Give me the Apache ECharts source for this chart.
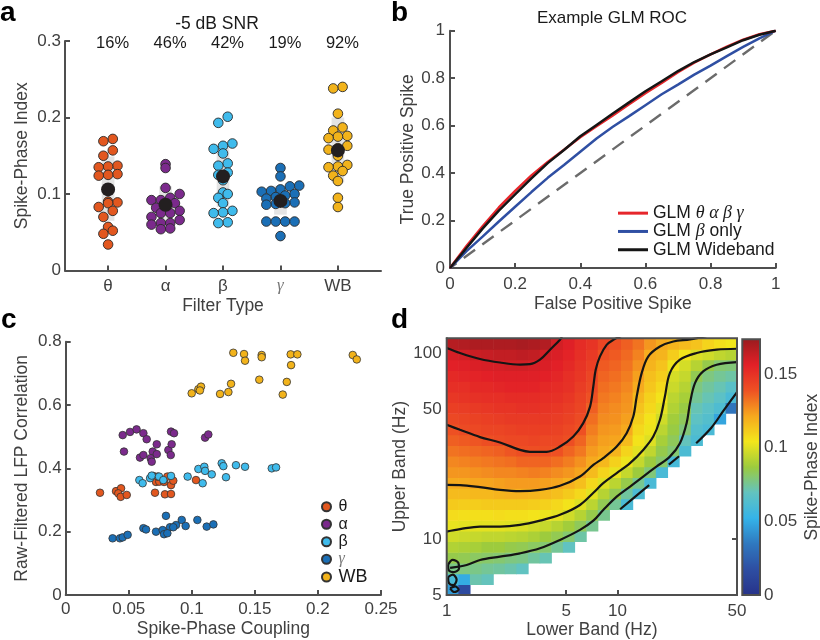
<!DOCTYPE html>
<html><head><meta charset="utf-8">
<script src="https://cdn.jsdelivr.net/npm/echarts@6/dist/echarts.min.js"></script>
<style>html,body{margin:0;padding:0;background:#fff}#main{width:820px;height:640px}</style>
</head><body><div id="main"></div>
<script>
// ================= DATA =================
// ---- Panel a: Spike-Phase Index per filter type (-5 dB SNR) ----
const filterCategories = ['θ','α','β','γ','WB'];
const thetaSPI = [0.172,0.169,0.157,0.150,0.137,0.136,0.135,0.126,0.125,0.124,0.090,0.089,0.088,0.083,0.078,0.070,0.057,0.052,0.048,0.034];
const alphaSPI = [0.139,0.134,0.108,0.100,0.095,0.092,0.092,0.088,0.085,0.082,0.078,0.075,0.075,0.070,0.066,0.062,0.062,0.060,0.055,0.054];
const betaSPI  = [0.201,0.193,0.166,0.163,0.159,0.153,0.140,0.137,0.128,0.125,0.118,0.102,0.100,0.095,0.088,0.078,0.076,0.075,0.063,0.062];
const gammaSPI = [0.134,0.123,0.111,0.110,0.106,0.104,0.103,0.100,0.098,0.096,0.094,0.089,0.088,0.087,0.086,0.064,0.064,0.064,0.064,0.045];
const wbSPI    = [0.240,0.238,0.205,0.187,0.183,0.176,0.175,0.173,0.163,0.160,0.158,0.150,0.138,0.136,0.135,0.130,0.124,0.117,0.095,0.083];
const meanSPI  = [0.106,0.086,0.123,0.091,0.157];
const bandLow  = [0.065,0.062,0.083,0.073,0.115];
const bandHigh = [0.149,0.110,0.163,0.111,0.200];
const percentSignificant = [16,46,42,19,92];

// ---- Panel b: ROC curves ----
const rocFpr      = [0,0.05,0.1,0.15,0.2,0.25,0.3,0.35,0.4,0.45,0.5,0.55,0.6,0.65,0.7,0.75,0.8,0.85,0.9,0.95,1];
const tprAllBands = [0,0.092,0.176,0.255,0.325,0.390,0.447,0.498,0.551,0.598,0.643,0.690,0.737,0.780,0.825,0.865,0.900,0.933,0.962,0.985,1];
const tprBetaOnly = [0,0.070,0.132,0.196,0.258,0.320,0.380,0.434,0.490,0.546,0.595,0.640,0.686,0.732,0.773,0.815,0.853,0.893,0.932,0.968,1];
const tprWideband = [0,0.083,0.166,0.242,0.310,0.378,0.442,0.497,0.555,0.603,0.651,0.698,0.745,0.787,0.830,0.868,0.900,0.930,0.960,0.983,1];
const chanceFpr = [0,1];
const chanceTpr = [0,1];

// ---- Panel c: coupling vs correlation ----
const cThetaX = [0.0272,0.0399,0.0439,0.0417,0.0436,0.0484,0.0695,0.0716,0.0708,0.0742,0.0780,0.0806,0.0835,0.0853,0.0787,0.0835,0.0730,0.1033];
const cThetaY = [0.323,0.328,0.337,0.321,0.310,0.316,0.376,0.357,0.323,0.358,0.357,0.374,0.347,0.361,0.318,0.319,0.374,0.363];
const cAlphaX = [0.0452,0.0510,0.0562,0.0616,0.0642,0.0462,0.0589,0.0616,0.0690,0.0722,0.0674,0.0682,0.0722,0.0814,0.0840,0.0833,0.0835,0.0859,0.1105,0.1131];
const cAlphaY = [0.505,0.515,0.523,0.511,0.492,0.453,0.434,0.442,0.453,0.476,0.432,0.421,0.445,0.458,0.476,0.442,0.516,0.511,0.497,0.507];
const cBetaX  = [0.0584,0.0610,0.0669,0.0682,0.0740,0.0774,0.0835,0.0967,0.1052,0.1099,0.1105,0.1086,0.1158,0.1237,0.1250,0.1271,0.1350,0.1422,0.1634,0.1668];
const cBetaY  = [0.363,0.353,0.369,0.377,0.374,0.363,0.376,0.374,0.398,0.405,0.392,0.353,0.381,0.416,0.407,0.372,0.410,0.405,0.400,0.403];
const cGammaX = [0.0372,0.0430,0.0452,0.0491,0.0616,0.0637,0.0716,0.0769,0.0780,0.0795,0.0827,0.0875,0.0920,0.0951,0.1044,0.1118,0.1171,0.0806,0.0853];
const cGammaY = [0.179,0.179,0.182,0.190,0.211,0.207,0.200,0.205,0.192,0.250,0.214,0.221,0.237,0.218,0.237,0.216,0.223,0.195,0.214];
const cWbX    = [0.1329,0.1414,0.1422,0.1554,0.1554,0.1784,0.1837,0.1787,0.2276,0.2308,0.0999,0.1052,0.1073,0.1064,0.1224,0.1290,0.1311,0.1535,0.1753,0.1721];
const cWbY    = [0.765,0.761,0.740,0.758,0.751,0.760,0.760,0.726,0.758,0.744,0.637,0.650,0.658,0.646,0.635,0.641,0.667,0.680,0.673,0.633];

// ---- Panel d: Spike-Phase Index map (rows: upper band, bottom->top; cols: lower band, left->right) ----
// axes are log10(Hz); bins: lower band log10 0..1.7 step 0.068, upper band log10 0.699..2.079 step 0.0575
const lowerLogStart = 0, lowerLogStep = 0.068;
const upperLogStart = 0.699, upperLogStep = 0.0575;
const _ = null;
const spiMap = [
 [0.045,0.015,_,_,_,_,_,_,_,_,_,_,_,_,_,_,_,_,_,_,_,_,_,_,_],
 [0.060,0.050,0.072,0.070,_,_,_,_,_,_,_,_,_,_,_,_,_,_,_,_,_,_,_,_,_],
 [0.077,0.078,0.077,0.075,0.074,0.072,0.069,_,_,_,_,_,_,_,_,_,_,_,_,_,_,_,_,_,_],
 [0.085,0.084,0.082,0.081,0.080,0.078,0.077,0.074,0.071,_,_,_,_,_,_,_,_,_,_,_,_,_,_,_,_],
 [0.091,0.090,0.089,0.087,0.087,0.085,0.084,0.082,0.080,0.075,0.069,_,_,_,_,_,_,_,_,_,_,_,_,_,_],
 [0.097,0.096,0.095,0.094,0.094,0.093,0.092,0.090,0.087,0.084,0.080,0.073,_,_,_,_,_,_,_,_,_,_,_,_,_],
 [0.102,0.101,0.101,0.101,0.101,0.100,0.099,0.097,0.095,0.092,0.088,0.083,0.076,_,_,_,_,_,_,_,_,_,_,_,_],
 [0.107,0.106,0.106,0.106,0.107,0.106,0.106,0.105,0.103,0.101,0.097,0.092,0.085,0.076,_,_,_,_,_,_,_,_,_,_,_],
 [0.112,0.111,0.111,0.112,0.112,0.112,0.112,0.111,0.110,0.108,0.105,0.100,0.093,0.084,0.075,0.060,_,_,_,_,_,_,_,_,_],
 [0.116,0.116,0.117,0.117,0.118,0.119,0.119,0.118,0.117,0.115,0.112,0.108,0.101,0.092,0.084,0.074,0.061,_,_,_,_,_,_,_,_],
 [0.121,0.121,0.122,0.122,0.123,0.124,0.124,0.124,0.123,0.122,0.119,0.115,0.108,0.100,0.093,0.085,0.076,0.060,_,_,_,_,_,_,_],
 [0.125,0.125,0.126,0.127,0.128,0.128,0.129,0.130,0.129,0.127,0.125,0.122,0.116,0.109,0.102,0.095,0.087,0.079,0.060,_,_,_,_,_,_],
 [0.128,0.129,0.130,0.131,0.132,0.133,0.135,0.135,0.135,0.133,0.130,0.126,0.121,0.117,0.110,0.103,0.095,0.087,0.081,0.059,_,_,_,_,_],
 [0.132,0.133,0.134,0.135,0.136,0.138,0.140,0.140,0.140,0.139,0.135,0.131,0.124,0.121,0.118,0.109,0.101,0.094,0.085,0.080,0.061,_,_,_,_],
 [0.136,0.137,0.138,0.140,0.141,0.142,0.142,0.143,0.142,0.142,0.140,0.135,0.127,0.123,0.122,0.116,0.105,0.100,0.089,0.083,0.070,0.061,_,_,_],
 [0.139,0.141,0.142,0.143,0.143,0.144,0.145,0.145,0.145,0.144,0.142,0.139,0.130,0.125,0.124,0.121,0.108,0.103,0.093,0.086,0.079,0.064,0.060,_,_],
 [0.142,0.143,0.144,0.145,0.146,0.147,0.147,0.147,0.147,0.146,0.144,0.141,0.133,0.127,0.126,0.123,0.111,0.105,0.097,0.088,0.083,0.068,0.064,0.048,_],
 [0.145,0.146,0.147,0.148,0.149,0.149,0.150,0.150,0.149,0.148,0.146,0.143,0.136,0.129,0.127,0.125,0.114,0.108,0.101,0.091,0.086,0.071,0.067,0.062,0.033],
 [0.148,0.149,0.150,0.151,0.151,0.152,0.152,0.152,0.151,0.150,0.148,0.144,0.139,0.131,0.129,0.126,0.117,0.110,0.105,0.093,0.089,0.075,0.071,0.067,0.060],
 [0.151,0.151,0.153,0.153,0.154,0.155,0.155,0.155,0.153,0.152,0.150,0.146,0.142,0.133,0.131,0.128,0.121,0.113,0.108,0.096,0.092,0.078,0.074,0.071,0.066],
 [0.153,0.154,0.155,0.156,0.157,0.157,0.157,0.157,0.156,0.154,0.151,0.148,0.143,0.135,0.133,0.130,0.123,0.115,0.111,0.098,0.095,0.084,0.078,0.075,0.073],
 [0.156,0.157,0.158,0.159,0.159,0.160,0.160,0.159,0.158,0.156,0.153,0.149,0.145,0.137,0.135,0.132,0.126,0.118,0.114,0.103,0.098,0.092,0.085,0.080,0.079],
 [0.159,0.160,0.162,0.163,0.164,0.164,0.165,0.164,0.160,0.158,0.155,0.151,0.147,0.139,0.137,0.134,0.129,0.120,0.118,0.111,0.104,0.099,0.097,0.094,0.092],
 [0.167,0.168,0.169,0.169,0.169,0.169,0.170,0.169,0.168,0.160,0.157,0.152,0.149,0.143,0.139,0.136,0.132,0.125,0.121,0.118,0.116,0.114,0.109,0.106,0.104]
];
// contour lines [log10 lower band, log10 upper band]
const contour016 = [[0,2.027],[0.078,2.0],[0.195,1.968],[0.312,1.949],[0.429,1.938],[0.487,1.94],[0.546,1.964],[0.605,2.018],[0.663,2.071],[0.675,2.09]];
const contour014 = [[0,1.614],[0.078,1.587],[0.195,1.548],[0.312,1.519],[0.429,1.479],[0.487,1.469],[0.585,1.469],[0.663,1.497],[0.741,1.551],[0.799,1.623],[0.839,1.712],[0.858,1.82],[0.872,1.91],[0.897,1.982],[0.936,2.044],[0.975,2.071],[1.02,2.09]];
const contour012 = [[0,1.291],[0.078,1.29],[0.195,1.279],[0.312,1.264],[0.429,1.257],[0.546,1.264],[0.663,1.286],[0.78,1.336],[0.86,1.40],[0.916,1.435],[0.995,1.497],[1.053,1.569],[1.092,1.659],[1.112,1.766],[1.141,1.892],[1.18,1.982],[1.248,2.035],[1.326,2.062],[1.424,2.073],[1.52,2.09]];
const contour010 = [[0,1.04],[0.078,1.053],[0.195,1.067],[0.312,1.067],[0.429,1.076],[0.546,1.099],[0.663,1.13],[0.78,1.183],[0.86,1.25],[0.916,1.3],[0.995,1.354],[1.073,1.408],[1.15,1.479],[1.209,1.551],[1.248,1.641],[1.277,1.766],[1.306,1.892],[1.365,1.964],[1.463,2.0],[1.58,2.018],[1.699,2.023]];
const contour008 = [[0.02,0.845],[0.117,0.86],[0.195,0.887],[0.312,0.905],[0.429,0.923],[0.546,0.95],[0.663,0.995],[0.78,1.049],[0.86,1.10],[0.916,1.156],[0.995,1.228],[1.073,1.282],[1.15,1.336],[1.229,1.39],[1.306,1.443],[1.365,1.515],[1.404,1.623],[1.424,1.731],[1.453,1.838],[1.501,1.901],[1.58,1.937],[1.699,1.951]];
const contour006a = [[1.015,1.16],[1.10,1.225],[1.185,1.29]];
const contour006b = [[1.30,1.40],[1.36,1.445]];
const contour006c = [[1.46,1.515],[1.55,1.60],[1.62,1.69],[1.699,1.79]];
const contourNoise1 = [[0.008,0.862],[0.035,0.888],[0.068,0.872],[0.072,0.842],[0.042,0.822],[0.012,0.832],[0.008,0.862]];
const contourNoise2 = [[0.008,0.795],[0.035,0.808],[0.058,0.782],[0.040,0.752],[0.014,0.762],[0.008,0.795]];
const contourNoise3 = [[0.02,0.735],[0.05,0.745],[0.07,0.728],[0.045,0.715],[0.02,0.735]];
const colorbarTicks = [0,0.05,0.1,0.15];

// ================= STYLE / LAYOUT =================
const FONT = "'Liberation Sans', Arial, Helvetica, sans-serif";
const SERIF = "'Liberation Serif', 'Times New Roman', serif";
const TXT = '#404040';
const DARK = '#1a1a1a';
const AX = '#4f4f4f';
const groupColors = ['#e2571f','#7b2a8c','#3fbbec','#1b6fb6','#f2b31b'];

function merge(a, b) {
  const o = Array.isArray(a) ? a.slice() : Object.assign({}, a);
  for (const k in b) {
    if (b[k] && typeof b[k] === 'object' && !Array.isArray(b[k]) && a && a[k] && typeof a[k] === 'object' && !Array.isArray(a[k])) o[k] = merge(a[k], b[k]);
    else o[k] = b[k];
  }
  return o;
}
const axisBase = {
  nameLocation: 'middle',
  axisLine: {show: true, onZero: false, lineStyle: {color: AX, width: 2}},
  axisTick: {show: true, inside: true, length: 5, lineStyle: {color: AX, width: 2}},
  axisLabel: {color: TXT, fontSize: 17, fontFamily: FONT},
  splitLine: {show: false},
  nameTextStyle: {color: TXT, fontSize: 17.5, fontFamily: FONT}
};

// grid 0 (a) geometry used for swarm spacing
const gridA = {left: 65, top: 41, width: 316, height: 229.5};
const aXmin = 0.25, aXmax = 5.75, aYmax = 0.3;
const pxPerXa = gridA.width / (aXmax - aXmin);
const pxPerYa = gridA.height / aYmax;
const swarmRowPx = 8.6, swarmStepPx = 9.4;
// bin-based swarm: points of similar value share a row, spread symmetrically
function swarmOffsets(vals) {
  const bins = {};
  vals.forEach((v, i) => { const b = Math.floor(v * pxPerYa / swarmRowPx); (bins[b] = bins[b] || []).push(i); });
  const offs = new Array(vals.length).fill(0);
  Object.keys(bins).forEach(b => {
    const idx = bins[b].sort((p, q) => vals[p] - vals[q]);
    const n = idx.length;
    // alternate placement so that neighbouring values fan out from the centre
    const slots = [];
    for (let k = 0; k < n; k++) slots.push(k - (n - 1) / 2);
    idx.forEach((i, k) => { offs[i] = slots[k] * swarmStepPx / pxPerXa; });
  });
  return offs;
}

const grids = [
  gridA,
  {left: 450, top: 30.7, width: 325.7, height: 237.3},
  {left: 65.7, top: 341.7, width: 315.3, height: 253.3},
  {left: 446.7, top: 338.3, width: 290.3, height: 256.7, show: true, borderColor: AX, borderWidth: 2, backgroundColor: 'rgba(0,0,0,0)', z: 10},
  {left: 742.3, top: 339.3, width: 17.7, height: 255.7, show: true, borderColor: AX, borderWidth: 2, backgroundColor: 'rgba(0,0,0,0)', z: 10}
].map(g => Object.assign({containLabel: false, outerBoundsMode: 'none'}, g));

const log10 = Math.log10;
const dXTicks = [0, log10(5), 1, log10(50)];
const dYTicks = [log10(5), 1, log10(50), 2];
const hzFmt = v => String(Math.round(Math.pow(10, v)));

const xAxes = [
  merge(axisBase, {gridIndex: 0, type: 'value', min: aXmin, max: aXmax, name: 'Filter Type', nameGap: 27,
    axisTick: {customValues: [1,2,3,4,5]},
    axisLabel: {customValues: [1,2,3,4,5], margin: 7,
      formatter: v => { const c = filterCategories[Math.round(v) - 1]; return c === 'γ' ? '{g|γ}' : c; },
      rich: {g: {fontFamily: SERIF, fontStyle: 'italic', fontSize: 17, color: '#777'}}}}),
  merge(axisBase, {gridIndex: 1, type: 'value', min: 0, max: 1, interval: 0.2, name: 'False Positive Spike', nameGap: 27,
    axisLabel: {margin: 8}}),
  merge(axisBase, {gridIndex: 2, type: 'value', min: 0, max: 0.25, interval: 0.05, name: 'Spike-Phase Coupling', nameGap: 25,
    axisLabel: {margin: 6}}),
  merge(axisBase, {gridIndex: 3, type: 'value', min: 0, max: log10(50), name: 'Lower Band (Hz)', nameGap: 26,
    axisTick: {customValues: dXTicks}, axisLabel: {customValues: dXTicks, formatter: hzFmt, margin: 8}}),
  {gridIndex: 4, type: 'value', min: 0, max: 1, show: false},
  merge(axisBase, {gridIndex: 3, type: 'value', position: 'top', min: 0, max: log10(50),
    axisLine: {show: false}, axisTick: {customValues: dXTicks}, axisLabel: {show: false}})
];
const yAxes = [
  merge(axisBase, {gridIndex: 0, type: 'value', min: 0, max: aYmax, interval: 0.1, name: 'Spike-Phase Index', nameGap: 34,
    axisLabel: {margin: 4}}),
  merge(axisBase, {gridIndex: 1, type: 'value', min: 0, max: 1, interval: 0.2, name: 'True Positive Spike', nameGap: 31,
    axisLabel: {margin: 5}}),
  merge(axisBase, {gridIndex: 2, type: 'value', min: 0, max: 0.8, interval: 0.2, name: 'Raw-Filtered LFP Correlation', nameGap: 34.5,
    axisLabel: {margin: 4}}),
  merge(axisBase, {gridIndex: 3, type: 'value', min: log10(5), max: log10(120), name: 'Upper Band (Hz)', nameGap: 33,
    axisTick: {customValues: dYTicks}, axisLabel: {customValues: dYTicks, formatter: hzFmt, margin: 5}}),
  merge(axisBase, {gridIndex: 4, type: 'value', position: 'right', min: 0, max: 0.1735, name: 'Spike-Phase Index', nameGap: 43, nameRotate: 90,
    axisLine: {show: false}, axisTick: {customValues: colorbarTicks, length: 4}, axisLabel: {customValues: colorbarTicks, margin: 4}}),
  merge(axisBase, {gridIndex: 3, type: 'value', position: 'right', min: log10(5), max: log10(120),
    axisLine: {show: false}, axisTick: {customValues: dYTicks}, axisLabel: {show: false}})
];

// ================= SERIES =================
const series = [];
// a: gray spread bands
series.push({type: 'custom', xAxisIndex: 0, yAxisIndex: 0, silent: true, z: 1,
  data: bandLow.map((lo, i) => [i + 1, lo, bandHigh[i]]),
  renderItem: (params, api) => {
    const p0 = api.coord([api.value(0) - 0.11, api.value(2)]);
    const p1 = api.coord([api.value(0) + 0.11, api.value(1)]);
    return {type: 'rect', shape: {x: p0[0], y: p0[1], width: p1[0] - p0[0], height: p1[1] - p0[1]}, style: {fill: '#e4e4e4'}};
  }});
// a: swarms
[thetaSPI, alphaSPI, betaSPI, gammaSPI, wbSPI].forEach((vals, gi) => {
  const offs = swarmOffsets(vals);
  series.push({type: 'scatter', xAxisIndex: 0, yAxisIndex: 0, symbolSize: 9.6, z: 3, silent: true,
    itemStyle: {color: groupColors[gi], borderColor: '#2a2a2a', borderWidth: 0.9, opacity: 1},
    data: vals.map((v, i) => [gi + 1 + offs[i], v])});
});
// a: means
series.push({type: 'scatter', xAxisIndex: 0, yAxisIndex: 0, symbolSize: 14, z: 4, silent: true,
  itemStyle: {color: '#231f20', opacity: 1}, data: meanSPI.map((v, i) => [i + 1, v])});

// b: ROC
series.push({type: 'line', xAxisIndex: 1, yAxisIndex: 1, silent: true, showSymbol: false, z: 2,
  lineStyle: {color: '#6b6b6b', width: 2.4, type: [14, 9], dashOffset: 6},
  data: chanceFpr.map((x, i) => [x, chanceTpr[i]])});
const rocSeries = [
  {name: 'GLM β only', color: '#2f4fa3', tpr: tprBetaOnly},
  {name: 'GLM θαβγ', color: '#e6262b', tpr: tprAllBands},
  {name: 'GLM Wideband', color: '#151515', tpr: tprWideband}
];
rocSeries.forEach(r => series.push({type: 'line', name: r.name, xAxisIndex: 1, yAxisIndex: 1, silent: true, showSymbol: false, z: 3,
  color: r.color, itemStyle: {color: r.color}, lineStyle: {color: r.color, width: 2.5},
  data: rocFpr.map((x, i) => [x, r.tpr[i]])}));

// c: scatter groups
[[cThetaX, cThetaY], [cAlphaX, cAlphaY], [cBetaX, cBetaY], [cGammaX, cGammaY], [cWbX, cWbY]].forEach((g, gi) => {
  series.push({type: 'scatter', name: filterCategories[gi], xAxisIndex: 2, yAxisIndex: 2, symbolSize: 7.6, z: 3, silent: true,
    itemStyle: {color: groupColors[gi], borderColor: '#333', borderWidth: 0.8, opacity: 1},
    data: g[0].map((x, i) => [x, g[1][i]])});
});

// d: heatmap
const heatData = [];
spiMap.forEach((row, j) => row.forEach((v, i) => {
  if (v !== null) heatData.push([lowerLogStart + i * lowerLogStep, upperLogStart + j * upperLogStep, v]);
}));
const heatIdx = series.length;
series.push({type: 'custom', xAxisIndex: 3, yAxisIndex: 3, silent: true, z: 1, clip: true,
  dimensions: ['lx', 'ly', 'spi'], encode: {x: 0, y: 1},
  data: heatData,
  renderItem: (params, api) => {
    const x0 = api.value(0), y0 = api.value(1);
    const p0 = api.coord([x0, y0]);
    const p1 = api.coord([x0 + lowerLogStep, y0 + upperLogStep]);
    return {type: 'rect', shape: {x: p0[0], y: p1[1], width: p1[0] - p0[0] + 0.6, height: p0[1] - p1[1] + 0.6},
      style: {fill: api.visual('color')}};
  }});
// d: contours
[contour016, contour014, contour012, contour010, contour008, contour006a, contour006b, contour006c, contourNoise1, contourNoise2, contourNoise3].forEach(c => {
  series.push({type: 'line', xAxisIndex: 3, yAxisIndex: 3, silent: true, showSymbol: false, smooth: 0.35, z: 4, clip: true,
    lineStyle: {color: '#151515', width: 2.2}, data: c});
});
// colorbar grid placeholder
series.push({type: 'scatter', xAxisIndex: 4, yAxisIndex: 4, data: [], silent: true});

const jetColors = ['#27338a','#2e4ea2','#2f78bf','#35b3e8','#62c3c0','#9ccb3e','#f3e61b','#f6a81e','#ee5123','#e22027','#9b1b1f'];

const letterFont = "bold 28px 'Liberation Sans', Arial, sans-serif";
const option = {
  backgroundColor: '#ffffff',
  animation: false,
  textStyle: {fontFamily: FONT},
  grid: grids,
  xAxis: xAxes,
  yAxis: yAxes,
  visualMap: [{type: 'continuous', min: 0, max: 0.1735, dimension: 2, seriesIndex: heatIdx,
    orient: 'vertical', left: 742.3, top: 339.3, itemWidth: 17.7, itemHeight: 255.7, padding: 0,
    calculable: false, hoverLink: false, text: null, inRange: {color: jetColors}}],
  legend: [
    {data: ['GLM θαβγ', 'GLM β only', 'GLM Wideband'], orient: 'vertical', left: 618, top: 204, padding: 0,
      itemWidth: 30, itemHeight: 3, itemGap: 0, icon: 'rect', selectedMode: false,
      formatter: n => n === 'GLM θαβγ' ? 'GLM {g|θ α β γ}' : (n === 'GLM β only' ? 'GLM {g|β} only' : n),
      textStyle: {fontSize: 17.5, color: DARK, fontFamily: FONT, lineHeight: 18.3,
        rich: {g: {fontFamily: SERIF, fontStyle: 'italic', fontSize: 18, color: DARK, lineHeight: 18.3}}}},
    {data: filterCategories, orient: 'vertical', left: 321, top: 498, padding: 0,
      itemWidth: 14, itemHeight: 9, itemGap: 0, icon: 'circle', selectedMode: false,
      formatter: n => n === 'γ' ? '{g|γ}' : (n === 'WB' ? '{w|WB}' : n),
      textStyle: {fontSize: 16, color: DARK, fontFamily: FONT, lineHeight: 17.5,
        rich: {g: {fontFamily: SERIF, fontStyle: 'italic', fontSize: 16, color: '#777', lineHeight: 17.5},
               w: {fontSize: 18, color: DARK, fontFamily: FONT, lineHeight: 17.5}}}}
  ],
  series: series
};
const chart = echarts.init(document.getElementById('main'), null, {renderer: 'canvas', width: 820, height: 640});
chart.setOption(option);

// annotations placed through the axes' own scales
const graphics = [
  {type: 'text', x: 0, y: 13, style: {text: 'a', font: letterFont, fill: '#000', textAlign: 'left', textVerticalAlign: 'middle'}},
  {type: 'text', x: 391, y: 13, style: {text: 'b', font: letterFont, fill: '#000', textAlign: 'left', textVerticalAlign: 'middle'}},
  {type: 'text', x: 1, y: 320, style: {text: 'c', font: letterFont, fill: '#000', textAlign: 'left', textVerticalAlign: 'middle'}},
  {type: 'text', x: 391, y: 320, style: {text: 'd', font: letterFont, fill: '#000', textAlign: 'left', textVerticalAlign: 'middle'}},
  {type: 'text', x: 217, y: 24, style: {text: '-5 dB SNR', font: "17.5px 'Liberation Sans', Arial, sans-serif", fill: DARK, textAlign: 'center', textVerticalAlign: 'middle'}},
  {type: 'text', x: 612, y: 18, style: {text: 'Example GLM ROC', font: "17px 'Liberation Sans', Arial, sans-serif", fill: DARK, textAlign: 'center', textVerticalAlign: 'middle'}}
];
percentSignificant.forEach((p, i) => {
  const pt = chart.convertToPixel({xAxisIndex: 0, yAxisIndex: 0}, [i + 1, aYmax]);
  graphics.push({type: 'text', x: pt[0] + 4.5, y: pt[1] + 2.5,
    style: {text: p + '%', font: "16.5px 'Liberation Sans', Arial, sans-serif", fill: DARK, textAlign: 'center', textVerticalAlign: 'middle'}});
});
chart.setOption({graphic: graphics});
</script>
</body></html>
